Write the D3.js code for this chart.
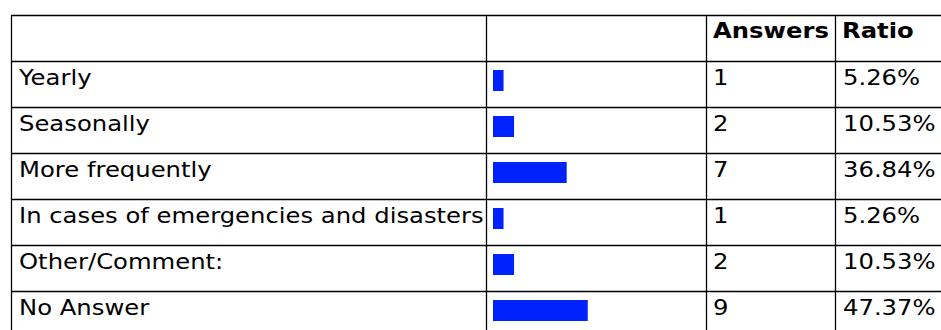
<!DOCTYPE html>
<html>
<head>
<meta charset="utf-8">
<script src="https://cdn.jsdelivr.net/npm/d3@7"></script>
<style>
html,body{margin:0;padding:0;background:#fff;}
svg{display:block;}
</style>
</head>
<body>
<svg id="chart" width="941" height="330"></svg>
<script>
const categories = ["Yearly","Seasonally","More frequently","In cases of emergencies and disasters","Other/Comment:","No Answer"];
const answers = [1,2,7,1,2,9];
const ratios = [5.26,10.53,36.84,5.26,10.53,47.37];
const headers = ["", "", "Answers", "Ratio"];

(function(){
const svg = d3.select("#chart");
const font = "'DejaVu Sans', Verdana, sans-serif";
const fontSize = 20.5;
const stretch = 1.185;

const colEdges = [11, 486, 706, 835, 990];
const tableTop = 15, rowH = 46;
const rowKeys = ["__header"].concat(categories);
const y = d3.scaleBand().domain(rowKeys).range([tableTop, tableTop + rowH * rowKeys.length]).padding(0);
const x = d3.scaleLinear().domain([0, 100]).range([0, 200]);

const g = svg.append("g");

// bars
g.selectAll("rect.bar").data(categories).join("rect")
  .attr("class","bar")
  .attr("x", colEdges[1] + 7)
  .attr("y", d => y(d) + 9)
  .attr("width", (d,i) => x(ratios[i]))
  .attr("height", 21)
  .attr("fill", "#0022ff");

// grid lines
const tableBottom = y.range()[1];
g.selectAll("line.h").data(d3.range(rowKeys.length + 1)).join("line")
  .attr("class","h")
  .attr("x1", colEdges[0]).attr("x2", colEdges[4])
  .attr("y1", i => tableTop + i * rowH + 0.5).attr("y2", i => tableTop + i * rowH + 0.5)
  .attr("stroke", "#000").attr("stroke-width", 1.3);
g.selectAll("line.v").data(colEdges).join("line")
  .attr("class","v")
  .attr("x1", d => d + 0.5).attr("x2", d => d + 0.5)
  .attr("y1", tableTop).attr("y2", tableBottom)
  .attr("stroke", "#000").attr("stroke-width", 1.3);

function place(sel, xf, yf) {
  sel.attr("transform", (d,i) => `translate(${xf(d,i)},${yf(d,i)}) scale(${stretch},1)`)
     .attr("font-family", font).attr("font-size", fontSize).attr("fill", "#000");
}

// header text
place(g.selectAll("text.hdr").data(headers).join("text").attr("class","hdr")
  .attr("font-weight", "bold").text(d => d),
  (d,i) => colEdges[i] + 7, () => tableTop + 23);

// labels
place(g.selectAll("text.lab").data(categories).join("text").attr("class","lab").text(d => d),
  () => colEdges[0] + 8, d => y(d) + 24);

place(g.selectAll("text.ans").data(categories).join("text").attr("class","ans").text((d,i) => answers[i]),
  () => colEdges[2] + 7, d => y(d) + 24);

place(g.selectAll("text.rat").data(categories).join("text").attr("class","rat").text((d,i) => ratios[i].toFixed(2) + "%"),
  () => colEdges[3] + 8, d => y(d) + 24);
})();
</script>
</body>
</html>
